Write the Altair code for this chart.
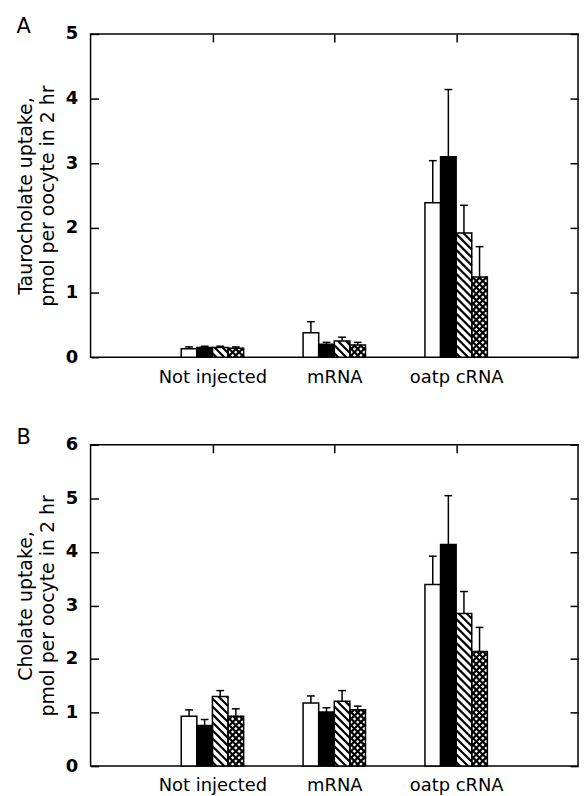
import json
import altair as alt
import pandas as pd

# ---------------- data ----------------
categories = ["Not injected", "mRNA", "oatp cRNA"]
series = ["open", "solid", "hatched", "crosshatched"]

# Panel A: taurocholate uptake (pmol per oocyte in 2 hr)
tauro_not_injected = [0.13, 0.15, 0.15, 0.14]
tauro_mrna = [0.38, 0.20, 0.25, 0.19]
tauro_oatp = [2.39, 3.10, 1.92, 1.24]
tauro_err_not_injected = [0.03, 0.02, 0.02, 0.02]
tauro_err_mrna = [0.17, 0.03, 0.06, 0.04]
tauro_err_oatp = [0.65, 1.04, 0.43, 0.47]

# Panel B: cholate uptake (pmol per oocyte in 2 hr)
cholate_not_injected = [0.93, 0.76, 1.30, 0.93]
cholate_mrna = [1.18, 1.01, 1.21, 1.05]
cholate_oatp = [3.39, 4.14, 2.85, 2.14]
cholate_err_not_injected = [0.12, 0.11, 0.11, 0.14]
cholate_err_mrna = [0.13, 0.08, 0.20, 0.07]
cholate_err_oatp = [0.53, 0.91, 0.41, 0.45]

title_a = ["Taurocholate uptake,", "pmol per oocyte in 2 hr"]
title_b = ["Cholate uptake,", "pmol per oocyte in 2 hr"]

# ---------------- layout / style constants ----------------
FONT = "DejaVu Sans"
W = 490
H_A = 325
H_B = 323
X_MAX = 4
BW = 0.128          # bar width in x units
CAP = 0.032         # half cap width in x units
INK = "black"


def build_frame(means, errs):
    rows = []
    for ci, (cat, mv, ev) in enumerate(zip(categories, means, errs)):
        for si, s in enumerate(series):
            x0 = (ci + 1) + (si - 2) * BW
            rows.append(dict(category=cat, series=s, mean=mv[si], err=ev[si],
                             cap=mv[si] + ev[si], x0=x0, x1=x0 + BW,
                             xc=x0 + BW / 2, cl=x0 + BW / 2 - CAP,
                             cr=x0 + BW / 2 + CAP))
    return pd.DataFrame(rows)


def bar_segments(kind, w, h):
    """Texture segments (pixel units, y up) clipped to a w x h bar."""
    segs = []
    period = 8.0 if kind == "hatched" else 6.5
    fams = [-1] if kind == "hatched" else [-1, 1]
    for f in fams:
        if f == -1:   # y = c - x  (upper-left to lower-right)
            c = period / 2
            while c < w + h:
                xa, xb = max(0.0, c - h), min(w, c)
                if xb - xa > 0.2:
                    segs.append((xa, c - xa, xb, c - xb))
                c += period
        else:         # y = c + x
            c = -w + period / 2
            while c < h:
                xa, xb = max(0.0, -c), min(w, h - c)
                if xb - xa > 0.2:
                    segs.append((xa, c + xa, xb, c + xb))
                c += period
    return segs


def hatch_df(df, height, ymax):
    ppx = W / X_MAX
    ppy = height / ymax
    rows = []
    for r in df.itertuples():
        if r.series not in ("hatched", "crosshatched"):
            continue
        for (xa, ya, xb, yb) in bar_segments(r.series, BW * ppx, r.mean * ppy):
            rows.append(dict(hx1=r.x0 + xa / ppx, hy1=ya / ppy,
                             hx2=r.x0 + xb / ppx, hy2=yb / ppy))
    return pd.DataFrame(rows)


label_expr = json.dumps(categories) + "[datum.value - 1]"


def panel(df, height, ymax, title_lines, letter):
    xs = alt.Scale(domain=[0, X_MAX], nice=False, zero=False)
    ys = alt.Scale(domain=[0, ymax], nice=False, zero=False)
    yvals = list(range(ymax + 1))
    base = alt.Chart(df)

    fill = base.mark_rect(strokeWidth=0).encode(
        x=alt.X("x0:Q", scale=xs, axis=alt.Axis(
            orient="bottom", values=[1, 2, 3], labelExpr=label_expr,
            ticks=False, tickSize=0, domain=False, grid=False, title=None,
            labelPadding=11, labelFontSize=18, labelFont=FONT,
            labelColor=INK)),
        x2="x1:Q",
        y=alt.Y("mean:Q", scale=ys, axis=alt.Axis(
            orient="left", values=yvals, format="d", ticks=False, tickSize=0,
            domain=False, grid=False, labelPadding=13, labelFontSize=18,
            labelFontWeight="bold",
            labelFont=FONT, labelColor=INK, title=title_lines,
            titleFont=FONT, titleFontSize=19, titleFontWeight="normal",
            titleColor=INK, titlePadding=8, titleLineHeight=22)),
        y2=alt.datum(0),
        fill=alt.Fill("series:N", scale=alt.Scale(
            domain=series, range=["white", "black", "white", "white"]),
            legend=None),
    )

    hatch = alt.Chart(hatch_df(df, height, ymax)).mark_rule(
        color=INK, strokeWidth=2.2, strokeCap="butt").encode(
        x=alt.X("hx1:Q", scale=xs, axis=None),
        x2="hx2:Q",
        y=alt.Y("hy1:Q", scale=ys, axis=None),
        y2="hy2:Q",
    )

    outline = base.mark_rect(fillOpacity=0, stroke=INK, strokeWidth=1.5).encode(
        x=alt.X("x0:Q", scale=xs, axis=alt.Axis(
            orient="bottom", offset=-height, values=[1, 2, 3], labels=False,
            ticks=True, tickSize=8, tickWidth=1.5, tickColor=INK,
            domain=False, grid=False, title=None)),
        x2="x1:Q",
        y=alt.Y("mean:Q", scale=ys, axis=alt.Axis(
            orient="right", offset=-W, values=yvals, labels=False,
            ticks=True, tickSize=8, tickWidth=1.5, tickColor=INK,
            domain=False, grid=False, title=None)),
        y2=alt.datum(0),
    )

    errs = base.mark_rule(color=INK, strokeWidth=1.5).encode(
        x=alt.X("xc:Q", scale=xs, axis=None),
        y=alt.Y("mean:Q", scale=ys, axis=alt.Axis(
            orient="left", offset=-W, values=yvals, labels=False,
            ticks=True, tickSize=8, tickWidth=1.5, tickColor=INK,
            domain=False, grid=False, title=None)),
        y2="cap:Q",
    )

    caps = base.mark_rule(color=INK, strokeWidth=1.5).encode(
        x=alt.X("cl:Q", scale=xs, axis=None),
        x2="cr:Q",
        y=alt.Y("cap:Q", scale=ys, axis=None),
    )

    return alt.layer(fill, hatch, outline, errs, caps).resolve_axis(
        x="independent", y="independent").properties(
        width=W, height=height,
        title=alt.Title(letter, anchor="start", frame="bounds", fontSize=21,
                        fontWeight="normal", font=FONT, color=INK, offset=-12))


df_a = build_frame([tauro_not_injected, tauro_mrna, tauro_oatp],
                   [tauro_err_not_injected, tauro_err_mrna, tauro_err_oatp])
df_b = build_frame([cholate_not_injected, cholate_mrna, cholate_oatp],
                   [cholate_err_not_injected, cholate_err_mrna, cholate_err_oatp])

chart = alt.vconcat(
    panel(df_a, H_A, 5, title_a, "A"),
    panel(df_b, H_B, 6, title_b, "B"),
    spacing=39,
).configure_view(stroke=INK, strokeWidth=1.5).properties(
    padding={"left": 7, "top": 5, "right": 0, "bottom": 0},
    background="white",
)

chart.save("out.html", embed_options={"renderer": "svg", "actions": False})
